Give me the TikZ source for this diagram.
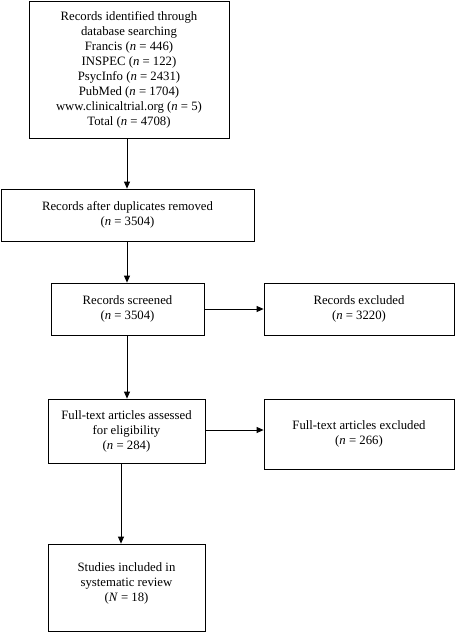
\documentclass[tikz,border=0pt]{standalone}
\usepackage{fontspec}
\setmainfont{Liberation Serif}
\usetikzlibrary{arrows.meta}
\begin{document}
\begin{tikzpicture}[x=1pt,y=-1pt,
  box/.style={draw=black,line width=0.8pt,align=center,inner sep=0pt,
    font=\fontsize{12.75}{15}\selectfont},
  arr/.style={draw=black,line width=0.8pt,-{Triangle[length=7pt,width=6pt]}}]
\useasboundingbox (0,0) rectangle (455,633);
\node[box,minimum width=200pt,minimum height=137pt] (b1) at (129,69.5)
  {Records identified through\\database searching\\Francis (\textit{n} = 446)\\INSPEC (\textit{n} = 122)\\PsycInfo (\textit{n} = 2431)\\PubMed (\textit{n} = 1704)\\www.clinicaltrial.org (\textit{n} = 5)\\Total (\textit{n} = 4708)};
\node[box,minimum width=253pt,minimum height=52pt] (b2) at (127.5,215)
  {Records after duplicates removed\\(\textit{n} = 3504)};
\node[box,minimum width=153pt,minimum height=52pt] (b3) at (127.5,309)
  {Records screened\\(\textit{n} = 3504)};
\node[box,minimum width=190pt,minimum height=52pt] (b4) at (359,309)
  {Records excluded\\(\textit{n} = 3220)};
\node[box,minimum width=157pt,minimum height=64pt] (b5) at (126.5,431)
  {Full-text articles assessed\\for eligibility\\(\textit{n} = 284)};
\node[box,minimum width=190pt,minimum height=70pt] (b6) at (359,434)
  {Full-text articles excluded\\(\textit{n} = 266)};
\node[box,minimum width=157pt,minimum height=87pt] (b7) at (126.5,587.5) {};
\node[align=center,inner sep=0pt,font=\fontsize{12.75}{15}\selectfont] (t7) at (126.5,583)
  {Studies included in\\systematic review\\(\textit{N} = 18)};
\draw[arr] (b1.south -| 127,0) -- (b2.north -| 127,0);
\draw[arr] (b2.south -| 127,0) -- (b3.north -| 127,0);
\draw[arr] (b3.east) -- (b4.west |- b3.east);
\draw[arr] (b3.south -| 127,0) -- (b5.north -| 127,0);
\draw[arr] (b5.east |- 0,430) -- (b6.west |- 0,430);
\draw[arr] (b5.south -| 121,0) -- (b7.north -| 121,0);
\end{tikzpicture}
\end{document}
